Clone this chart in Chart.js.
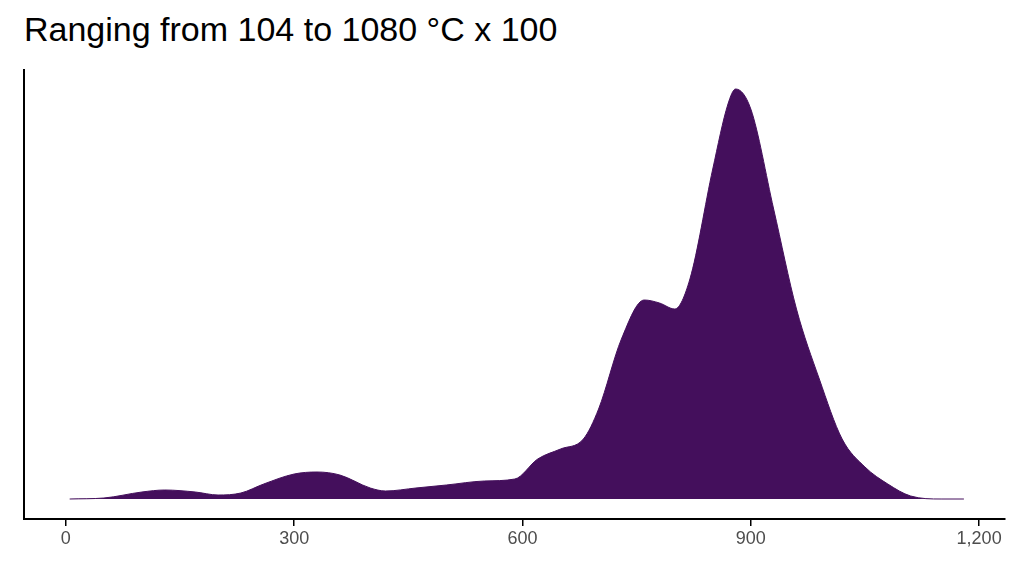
<!DOCTYPE html>
<html><head><meta charset="utf-8">
<script src="https://cdn.jsdelivr.net/npm/chart.js@4"></script>
<style>
html,body{margin:0;padding:0;background:#fff;}
#wrap{position:relative;width:1024px;height:576px;}
#title{position:absolute;left:24px;top:10px;font-family:"Liberation Sans",Arial,sans-serif;font-size:34px;color:#000;}
canvas{position:absolute;left:0;top:0;}
</style></head><body>
<div id="wrap"><div id="title">Ranging from 104 to 1080 °C x 100</div><canvas id="c" width="1024" height="576"></canvas></div>
<script>
const temps = [5,50,100,130,170,200,230,260,300,330,360,400,420,460,500,550,590,620,650,680,700,730,760,780,800,820,850,870,880,900,930,960,990,1020,1050,1080,1110,1150,1180];
const density = [0,1,7,9,7,4,6,15,25,27,24,11,8,11,14,18,20,40,50,60,90,160,199,196,190,220,330,395,410,390,290,190,120,60,32,15,3,0,0];
const xTicks = [0,300,600,900,1200];
new Chart(document.getElementById('c'),{
 type:'line',
 data:{datasets:[{data:temps.map((t,i)=>({x:t,y:density[i]})),fill:'origin',backgroundColor:'#440f5c',borderColor:'#440f5c',borderWidth:1,pointRadius:0,tension:0.4,cubicInterpolationMode:'monotone'}]},
 options:{responsive:false,animation:false,
  layout:{padding:{left:24,right:19,top:70,bottom:0}},
  plugins:{legend:{display:false},tooltip:{enabled:false}},
  scales:{
   x:{type:'linear',min:-55,max:1234,afterBuildTicks:s=>{s.ticks=xTicks.map(v=>({value:v}));},
      afterFit:s=>{s.height=57;},
      grid:{drawOnChartArea:false,tickLength:7,color:'#000',lineWidth:1.5},
      border:{color:'#000',width:2},
      ticks:{color:'#4d4d4d',font:{family:'Liberation Sans',size:18},padding:2,maxRotation:0}},
   y:{min:-20,max:429,afterFit:s=>{s.width=0;},grid:{display:false},border:{color:'#000',width:2},ticks:{display:false}}
  }}
});
</script></body></html>
